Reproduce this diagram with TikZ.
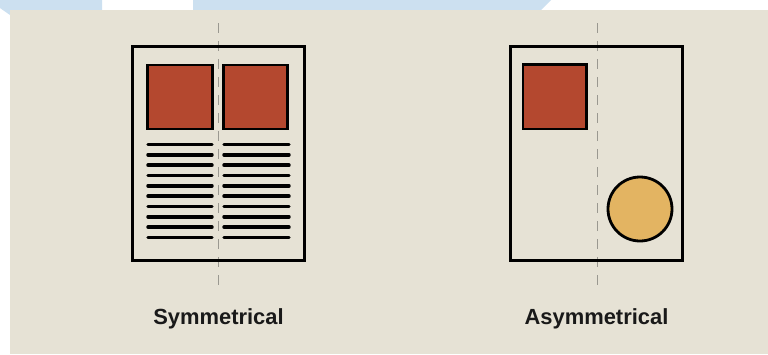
\documentclass[tikz,border=0pt]{standalone}
\usepackage{fontspec}
\setmainfont{Liberation Sans}
\usepackage{xcolor}

\definecolor{paper}{HTML}{E6E2D5}
\definecolor{banner}{HTML}{CCE0F0}
\definecolor{brick}{HTML}{B4482F}
\definecolor{ochre}{HTML}{E3B462}
\definecolor{axisgray}{HTML}{9A9890}

\begin{document}
\begin{tikzpicture}[
      x=1bp, y=-1bp,
      page/.style={draw=black, line width=3bp},
      picbox/.style={draw=black, fill=brick, line width=2.8bp},
      dot/.style={draw=black, fill=ochre, line width=2.8bp},
      textline/.style={line width=3.4bp, line cap=round},
      axis/.style={draw=axisgray, line width=0.9bp, dash pattern=on 10bp off 8bp},
      caption/.style={font=\fontsize{22}{26}\selectfont\bfseries, text=black!90}
    ]
    \useasboundingbox (0,0) rectangle (768,354);

    % Hintergrund
    \fill[white] (0,0) rectangle (768,354);
    \fill[banner] (0,0) -- (102,0) -- (102,12) -- (10,12) -- (10,15) -- (0,8) -- cycle;
    \fill[banner] (193,0) -- (551,0) -- (539,12) -- (193,12) -- cycle;
    \fill[paper] (10,10) rectangle (768,354);

    % Symmetrische Seite
    \draw[axis] (218,23) -- (218,286);
    \draw[page] (132,46) rectangle (304,260);
    \draw[picbox] (147.5,65) rectangle (212.5,129);
    \draw[picbox] (223.5,65) rectangle (287.5,129);
    \foreach \i in {0,...,9} {
      \draw[textline] (148,144.5+10.33*\i) -- (212,144.5+10.33*\i);
      \draw[textline] (224,144.5+10.33*\i) -- (289,144.5+10.33*\i);
    }
    \node[caption, anchor=base] (sym) at (218.5,324) {Symmetrical};

    % Asymmetrische Seite
    \draw[axis] (597,23) -- (597,286);
    \draw[page] (510,46) rectangle (682.5,260);
    \draw[picbox] (523,64.5) rectangle (586.5,129);
    \draw[dot] (640,209) circle[radius=32bp];
    \node[caption, anchor=base] (asym) at (596.5,324) {Asymmetrical};

  \end{tikzpicture}
\end{document}
